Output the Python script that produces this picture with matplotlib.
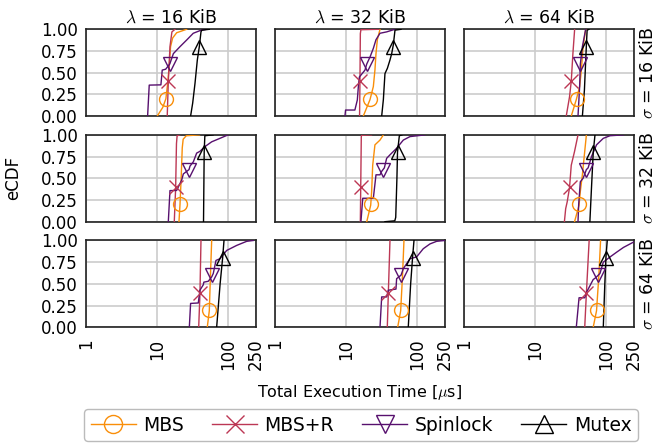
import numpy as np
import matplotlib
matplotlib.use("Agg")
import matplotlib.pyplot as plt
from matplotlib.lines import Line2D

plt.rcParams['font.family'] = ['DejaVu Sans']
plt.rcParams['mathtext.fontset'] = 'cm'

# column / row labels
lam_labels = ['16', '32', '64']
sig_labels = ['16', '32', '64']
series_names = ['MBS', 'MBS+R', 'Spinlock', 'Mutex']
series_colors = ['#f98e09', '#bc3754', '#57106e', '#000000']
series_markers = ['o', 'x', 'v', '^']
marker_levels = [0.2, 0.4, 0.6, 0.8]
x_ticks = [1, 10, 100, 250]
y_ticks = [0.0, 0.25, 0.5, 0.75, 1.0]

# eCDF curves, panels in order r1c1 .. r3c3
# (x = execution time in us, y = cumulative fraction)
mbs_x = [
    [10.1, 12.1, 13.4, 14.3, 15.0, 15.6, 16.7, 19.0, 26.3],
    [17.6, 21.9, 24.4, 25.7, 26.6, 27.8, 30.3],
    [32.6, 38.4, 42.8, 45.3, 47.9, 52.1],
    [20.5, 21.2, 22.0, 22.8, 23.5, 26.0, 40.0],
    [19.7, 22.4, 23.1, 23.9, 25.7, 30.3, 33.8],
    [36.3, 42.0, 43.8, 46.8, 50.5, 53.3],
    [51.4, 54.9, 57.0, 59.3],
    [53.8, 59.3, 63.0, 66.0],
    [66.5, 74.1, 80.0, 84.5],
]
mbs_y = [
    [0, .1, .2, .4, .6, .8, .9, .96, 1.0],
    [0, .19, .34, .53, .72, .88, 1.0],
    [0, .19, .34, .53, .80, 1.0],
    [0, .2, .5, .85, .95, .99, 1.0],
    [0, .19, .35, .65, .885, .94, 1.0],
    [0, .19, .35, .54, .81, 1.0],
    [0, .19, .6, 1.0],
    [0, .19, .6, 1.0],
    [0, .19, .6, 1.0],
]

mbsr_x = [
    [14.0, 14.5, 15.3, 16.3, 18.0],
    [15.6, 15.8, 16.0, 16.3, 29.0],
    [27.7, 30.8, 32.6, 34.4, 36.4],
    [17.6, 18.4, 18.9, 19.3, 21.0],
    [16.0, 16.2, 16.5, 16.7, 23.0],
    [26.1, 27.2, 28.6, 30.8, 32.6, 34.4, 36.3, 40.6],
    [38.9, 40.5, 41.9],
    [38.4, 39.7, 41.9],
    [50.5, 53.3, 58.3],
]
mbsr_y = [
    [0, .4, .8, .97, 1.0],
    [0, .4, .95, .995, 1.0],
    [0, .22, .4, .72, 1.0],
    [0, .39, .9, .99, 1.0],
    [0, .4, .98, .995, 1.0],
    [0, .15, .23, .39, .65, .73, .81, 1.0],
    [0, .38, 1.0],
    [0, .39, 1.0],
    [0, .39, 1.0],
]

spin_x = [
    [7.4, 7.8, 11.4, 11.9, 13.3, 15.2, 17.1, 21.2, 26.3, 32.6, 40.4, 50.0],
    [9.7, 9.9, 13.4, 14.5, 15.0, 15.5, 18.6, 19.7, 21.9, 24.4, 26.6, 30.3, 37.6, 49.3],
    [40.6, 42.8, 43.8, 46.8, 52.1],
    [14.5, 15.3, 19.0, 22.4, 23.6, 28.4, 29.3, 32.7, 36.4, 40.4, 47.7, 59.3, 77.6, 101],
    [16.3, 17.3, 24.4, 26.6, 30.3, 32.0, 34.9, 37.6, 41.9, 52, 64.6, 80.2, 130],
    [40.6, 41.5, 43.8, 47.9, 53.3, 56.4, 62.9, 74.1, 92.3, 115, 178],
    [28.7, 29.9, 38.4, 40.5, 45.2, 46.0, 53.1, 59.3, 62.5, 68.2, 77.6, 96.6, 133.6, 185, 229.6],
    [30.3, 32.0, 37.6, 39.7, 50.9, 52.0, 60.0, 64.6, 80.2, 99.5, 123.6, 153.6, 190.5, 250],
    [38.4, 42.0, 50.5, 53.3, 66.5, 72.0, 82.8, 92.3, 115, 143, 178, 245, 300],
]
spin_y = [
    [0, .357, .36, .53, .54, .6, .72, .80, .876, .954, .984, 1.0],
    [0, .07, .07, .185, .34, .45, .53, .6, .68, .78, .88, .954, .97, 1.0],
    [0, .34, .6, .8, 1.0],
    [0, .358, .36, .48, .55, .6, .64, .69, .79, .81, .865, .92, .96, 1.0],
    [0, .27, .27, .54, .54, .58, .62, .73, .77, .846, .94, .98, 1.0],
    [0, .2, .46, .5, .6, .62, .75, .885, .96, .99, 1.0],
    [0, .275, .28, .427, .49, .52, .53, .58, .62, .77, .79, .885, .943, .99, 1.0],
    [0, .35, .35, .427, .44, .56, .6, .675, .79, .81, .905, .96, .99, 1.0],
    [0, .34, .34, .4, .55, .57, .62, .75, .81, .866, .92, .98, 1.0],
]

mutex_x = [
    [29.9, 32.0, 34.5, 37.2, 39.7, 41.9, 43.0, 55.0],
    [32.0, 33.8, 35.6, 38.5, 41.9, 44.3, 46.7, 49.3, 60.0],
    [46.8, 50.0, 53.3, 54.6, 58.0],
    [45.5, 46.5, 47.5, 62.0],
    [35.6, 49.0, 50.5, 52.5, 53.5, 56.8, 62.0],
    [59.7, 63.0, 66.6, 70.5],
    [69.7, 78.0, 84.7, 88.5],
    [75.9, 82.0, 87.4, 91.4],
    [92.3, 97.0, 100.7, 105.0],
]
mutex_y = [
    [0, .15, .377, .646, .8, .97, .99, 1.0],
    [0, .19, .49, .55, .646, .72, .82, .99, 1.0],
    [0, .3, .82, .99, 1.0],
    [0, .8, .99, 1.0],
    [0, .01, .05, .5, .8, .99, 1.0],
    [0, .4, .8, 1.0],
    [0, .5, .8, 1.0],
    [0, .5, .81, 1.0],
    [0, .5, .81, 1.0],
]

all_x = [mbs_x, mbsr_x, spin_x, mutex_x]
all_y = [mbs_y, mbsr_y, spin_y, mutex_y]

fig, axes = plt.subplots(3, 3, figsize=(6.59, 4.47), dpi=100, sharex=True, sharey=True)
fig.subplots_adjust(left=0.1305, right=0.962, top=0.9345, bottom=0.2678,
                    wspace=0.112, hspace=0.216)

for r in range(3):
    for c in range(3):
        ax = axes[r, c]
        k = r * 3 + c
        for s in range(4):
            xs = np.array(all_x[s][k])
            ys = np.array(all_y[s][k])
            ax.plot(xs, ys, color=series_colors[s], lw=1.0, zorder=3)
            mx = np.interp(marker_levels[s], ys, xs)
            ax.plot([mx], [marker_levels[s]], marker=series_markers[s], ms=10,
                    mfc='none', mec=series_colors[s], mew=1.0, ls='none', zorder=4)
        ax.set_xscale('log')
        ax.set_xlim(1, 250)
        ax.set_ylim(0, 1)
        ax.set_xticks(x_ticks)
        ax.set_xticklabels([str(t) for t in x_ticks])
        ax.xaxis.set_minor_locator(matplotlib.ticker.NullLocator())
        ax.set_yticks(y_ticks)
        ax.set_yticklabels(['%.2f' % t for t in y_ticks])
        ax.grid(True, color='#cccccc', lw=1.2, zorder=0)
        ax.set_axisbelow(True)
        ax.tick_params(length=0, pad=6, labelsize=12)
        ax.tick_params(axis='x', labelrotation=90, pad=8)
        for sp in ax.spines.values():
            sp.set_color('#222222')
            sp.set_linewidth(1.2)
        if r == 0:
            ax.set_title(r'$\lambda$ = %s KiB' % lam_labels[c], fontsize=12.5, pad=5)
        if c == 2:
            ax.text(1.085, 0.5, r'$\sigma$ = %s KiB' % sig_labels[r], transform=ax.transAxes,
                    rotation=90, ha='center', va='center', fontsize=12.5)

fig.text(0.02, 0.602, 'eCDF', rotation=90, ha='center', va='center', fontsize=12)
fig.text(0.546, 0.123, r'Total Execution Time [$\mu$s]', ha='center', va='center', fontsize=11.5)

handles = [Line2D([0], [0], color=series_colors[s], lw=1.0, marker=series_markers[s],
                  ms=13, mfc='none', mec=series_colors[s]) for s in range(4)]
leg = fig.legend(handles, series_names, loc='center', bbox_to_anchor=(0.548, 0.049),
                 ncol=4, fontsize=13.5, frameon=True, fancybox=True, handlelength=2.4,
                 columnspacing=1.5, borderpad=0.35, handletextpad=0.4)
leg.get_frame().set_edgecolor('#aaaaaa')
leg.get_frame().set_linewidth(1.0)

fig.savefig('out.png', dpi=100)
